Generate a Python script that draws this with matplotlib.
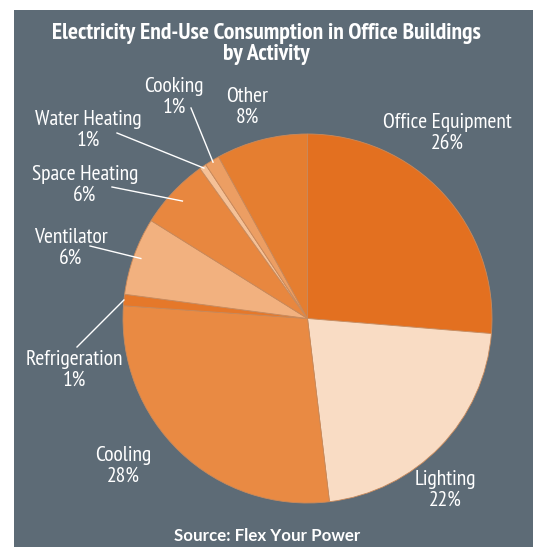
import matplotlib
matplotlib.use("Agg")
import matplotlib.pyplot as plt
import numpy as np
from matplotlib.font_manager import fontManager

available = {f.name for f in fontManager.ttflist}
def pick(cands):
    for c in cands:
        if c in available:
            return c
    return "DejaVu Sans"

FONT = pick(["PT Sans Narrow", "Fira Sans Condensed", "Roboto Condensed",
             "Open Sans Condensed", "Liberation Sans Narrow", "Liberation Sans"])
SRC_FONT = pick(["Lato", "Liberation Sans"])

categories = ["Office Equipment", "Lighting", "Cooling", "Refrigeration", "Ventilator",
              "Space Heating", "Water Heating", "Cooking", "Other"]
values = [26.3, 21.8, 28.0, 1.0, 6.8, 6.2, 0.6, 1.3, 8.0]
pct_labels = ["26%", "22%", "28%", "1%", "6%", "6%", "1%", "1%", "8%"]

colors = ["#E37020", "#F9DCC4", "#E98A43", "#E5782A", "#F2B17F",
          "#E8873F", "#F5C197", "#EC9E63", "#E57E30"]

W, H = 533, 547
fig = plt.figure(figsize=(W / 100, H / 100), dpi=100)
fig.patch.set_facecolor("white")
ax = fig.add_axes([0, 0, 1, 1])
ax.set_xlim(0, W)
ax.set_ylim(0, H)
ax.set_aspect("equal")
ax.axis("off")

BG = "#5D6B76"
ax.add_patch(plt.Rectangle((14, 0), W - 14, H - 10, facecolor=BG, edgecolor="none", zorder=0))

def Y(y):
    return H - y

cx, cy, R = 307.5, Y(318.5), 184.5
wedges, _ = ax.pie(values, startangle=90, counterclock=False, colors=colors,
                   center=(cx, cy), radius=R, frame=True,
                   wedgeprops=dict(edgecolor="#C98A5C", linewidth=0.6))
ax.set_xlim(0, W)
ax.set_ylim(0, H)
ax.axis("off")

label_pos = {
    "Office Equipment": (447, 133),
    "Lighting": (445, 490),
    "Cooling": (123, 466),
    "Refrigeration": (74, 370),
    "Ventilator": (71, 248),
    "Space Heating": (85, 185),
    "Water Heating": (88, 130),
    "Cooking": (174, 97),
    "Other": (247, 107),
}
leaders = {
    "Cooking": ((191, 108), 0.99),
    "Water Heating": ((117, 133), 0.99),
    "Space Heating": ((112, 187), 0.93),
    "Ventilator": ((90, 246), 0.96),
    "Refrigeration": ((77, 347), 1.0),
}

fs = 15.5
for cat, pct, w in zip(categories, pct_labels, wedges):
    x, y = label_pos[cat]
    ax.text(x, Y(y), f"{cat}\n{pct}", ha="center", va="center", color="white",
            fontsize=fs, family=FONT, linespacing=1.12, zorder=5)
    if cat in leaders:
        (sx, sy), rf = leaders[cat]
        ang = np.deg2rad((w.theta1 + w.theta2) / 2)
        ex, ey = cx + R * rf * np.cos(ang), cy + R * rf * np.sin(ang)
        ax.plot([sx, ex], [Y(sy), ey], color="white", lw=1.0, zorder=6)

ax.text(266, Y(44), "Electricity End-Use Consumption in Office Buildings\nby Activity",
        ha="center", va="center", color="white", fontsize=17, fontweight="bold",
        family=FONT, linespacing=1.0)
ax.text(267, Y(536), "Source: Flex Your Power", ha="center", va="center", color="white",
        fontsize=12.2, fontweight="bold", family=SRC_FONT)

fig.savefig("out.png", dpi=100, facecolor=fig.get_facecolor())
